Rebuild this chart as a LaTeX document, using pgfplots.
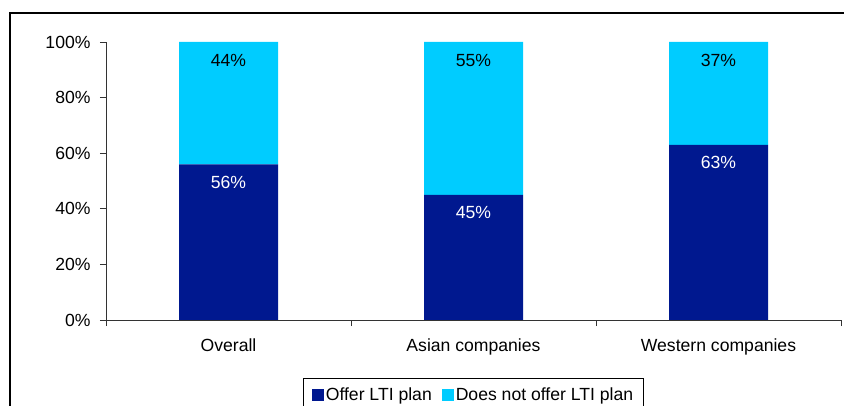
\documentclass[border=0pt]{standalone}
\usepackage{pgfplots}
\pgfplotsset{compat=1.18}
\usepackage{fontspec}
\setmainfont{Liberation Sans}
\definecolor{offerblue}{RGB}{0,24,143}
\definecolor{nooffercyan}{RGB}{0,204,255}
\newcommand{\chartfont}{\fontsize{17.6bp}{21bp}\selectfont}
\pgfplotsset{sqlegend/.style={legend image code/.code={\fill[##1] (0bp,-6bp) rectangle (12bp,6bp);}}}
\begin{document}
\begin{tikzpicture}[font=\chartfont]
\useasboundingbox (0,0) rectangle (844bp,406bp);
% outer chart frame
\draw[line width=1.4bp] (10bp,-10bp) -- (10bp,393bp) -- (860bp,393bp);
\begin{axis}[
  at={(106bp,86bp)}, anchor=south west,
  scale only axis, width=735bp, height=278bp,
  ybar stacked, bar width=99bp,
  xmin=-0.5, xmax=2.5, ymin=0, ymax=100,
  axis x line*=bottom, axis y line*=left,
  axis line style={line width=0.9bp, black!80},
  xtick={-0.5,0.5,1.5,2.5},
  xticklabels={{},{},{},{}},
  extra x ticks={0,1,2},
  extra x tick labels={Overall,Asian companies,Western companies},
  extra x tick style={major tick length=0pt, tick label style={yshift=-15bp}},
  ytick={0,20,40,60,80,100},
  yticklabel={\pgfmathprintnumber{\tick}\%},
  yticklabel style={xshift=-6bp},
  tick align=outside, major tick length=6bp,
  tick style={line width=0.9bp, black!80},
  tick label style={font=\chartfont, black},
  /pgf/number format/assume math mode=true,
  point meta=explicit,
  visualization depends on={rawy \as \rawy},
  nodes near coords={\pgfmathprintnumber{\pgfplotspointmeta}\%},
  % label sits just below the top edge of its own segment
  every node near coord/.append style={font=\chartfont, anchor=center,
    yshift={(1.39*\rawy-18)*1bp}},
  legend columns=2,
  legend style={at={(0.5,-0.2086)}, anchor=north, draw=black, line width=0.9bp,
    font=\chartfont, inner xsep=8bp, inner ysep=7bp,
    /tikz/every even column/.append style={column sep=8bp}},
  legend cell align=left,
]
\addplot[fill=offerblue, draw=none, sqlegend,
  every node near coord/.append style={white}]
  coordinates {(0,56) [56] (1,45) [45] (2,63) [63]};
\addplot[fill=nooffercyan, draw=none, sqlegend,
  every node near coord/.append style={black}]
  coordinates {(0,44) [44] (1,55) [55] (2,37) [37]};
\legend{Offer LTI plan, Does not offer LTI plan}
\end{axis}
\end{tikzpicture}
\end{document}
